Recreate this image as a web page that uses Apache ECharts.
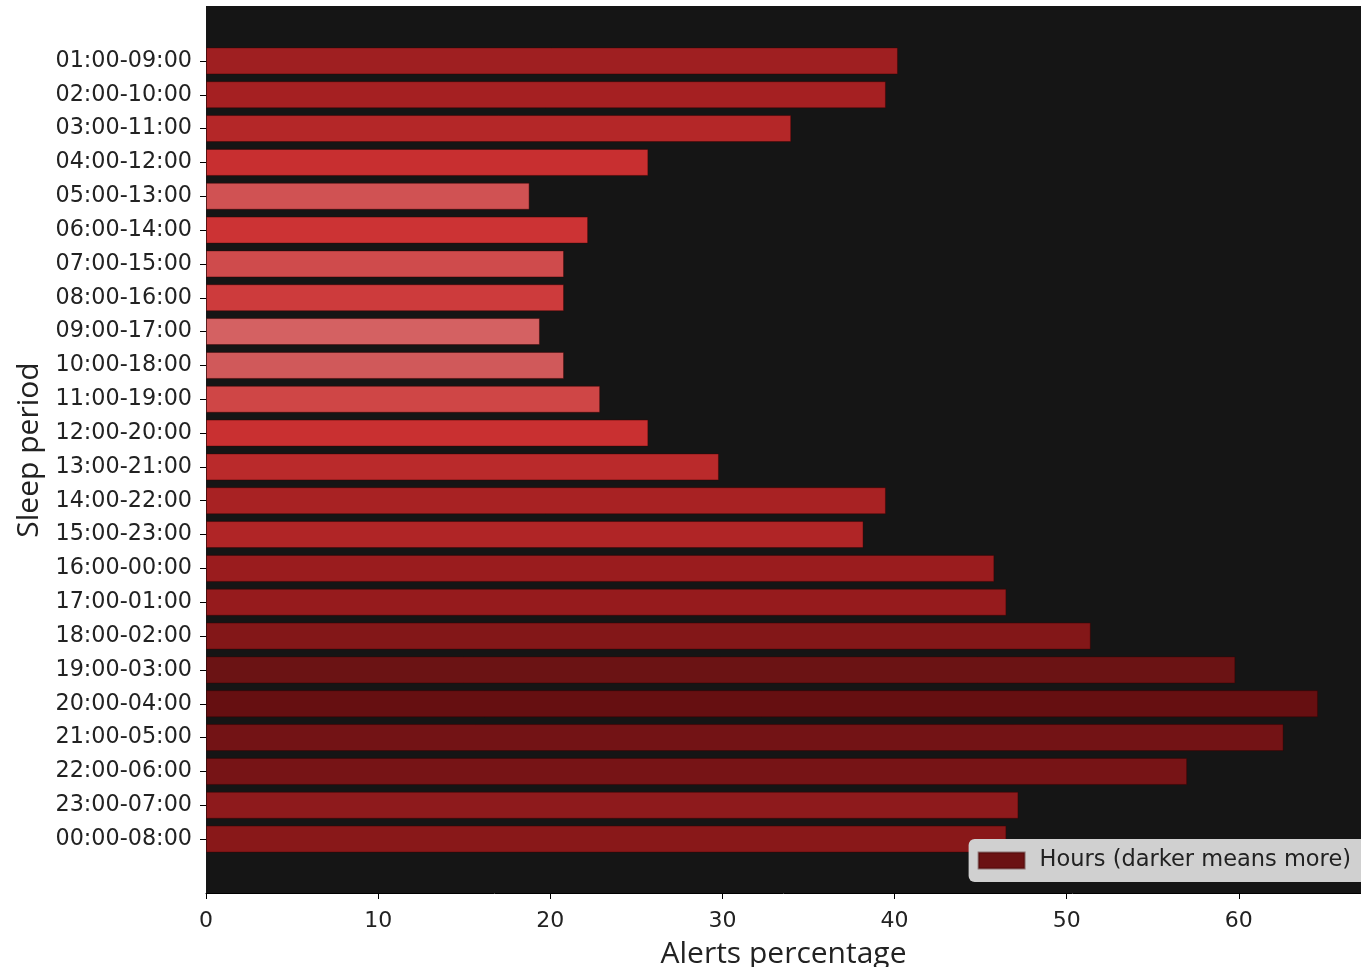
<!DOCTYPE html>
<html>
<head>
<meta charset="utf-8">
<script src="https://cdn.jsdelivr.net/npm/echarts@6/dist/echarts.min.js"></script>
<style>html,body{margin:0;padding:0;background:#fff}#chart{width:1361px;height:967px}</style>
</head>
<body>
<div id="chart"></div>
<script>
const periods = ["01:00-09:00","02:00-10:00","03:00-11:00","04:00-12:00","05:00-13:00","06:00-14:00","07:00-15:00","08:00-16:00","09:00-17:00","10:00-18:00","11:00-19:00","12:00-20:00","13:00-21:00","14:00-22:00","15:00-23:00","16:00-00:00","17:00-01:00","18:00-02:00","19:00-03:00","20:00-04:00","21:00-05:00","22:00-06:00","23:00-07:00","00:00-08:00"];
const alertsPct = [40.2,39.5,34.0,25.7,18.8,22.2,20.8,20.8,19.4,20.8,22.9,25.7,29.8,39.5,38.2,45.8,46.5,51.4,59.8,64.6,62.6,57.0,47.2,46.5];
const barColors = ["#9f1f21","#a52022","#b42728","#c82f30","#d05253","#cc3334","#cf4b4c","#cd3b3c","#d46162","#d0595a","#cf4646","#c93031","#ba2a2b","#a82223","#b02526","#9a1c1e","#961b1d","#831718","#6b1314","#660f11","#731315","#771416","#8e1a1c","#891819"];
const xTicks = [0,10,20,30,40,50,60];
const legendLabel = "Hours (darker means more)";

const chart = echarts.init(document.getElementById('chart'), null, {renderer:'canvas'});
const font = 'DejaVu Sans';
chart.setOption({
  animation: false,
  backgroundColor: '#ffffff',
  graphic: [{
    type: 'rect', z: -100, silent: true,
    shape: {x: 206, y: 6, width: 1155, height: 887},
    style: {fill: '#151515'}
  }],
  grid: {left: 206, right: 0, top: 44, height: 812, containLabel: false, outerBoundsMode: 'none'},
  legend: {
    show: true, right: -6, bottom: 85,
    data: [legendLabel],
    icon: 'rect', itemWidth: 46, itemHeight: 16,
    backgroundColor: '#d0d0d0', borderRadius: 6,
    padding: [10, 16, 10, 9],
    textStyle: {fontFamily: font, fontSize: 22.5, color: '#222', padding: [0,0,0,10]}
  },
  xAxis: {
    type: 'value', min: 0, max: 67.1, offset: 37,
    name: 'Alerts percentage', nameLocation: 'middle', nameGap: 46, nameMoveOverlap: false,
    nameTextStyle: {fontFamily: 'Open Sans', fontSize: 30, color: '#222'},
    axisLine: {show: true, lineStyle: {color: '#000', width: 1}},
    axisTick: {show: true, length: 6, customValues: xTicks, lineStyle: {color: '#000'}},
    axisLabel: {fontFamily: font, fontSize: 22, color: '#222', margin: 17, customValues: xTicks},
    splitLine: {show: false}
  },
  yAxis: {
    type: 'category', data: periods, inverse: true,
    name: 'Sleep period', nameLocation: 'middle', nameGap: 162, nameRotate: 90, nameMoveOverlap: false,
    nameTextStyle: {fontFamily: 'Open Sans', fontSize: 30, color: '#222'},
    axisLine: {show: false},
    axisTick: {show: true, alignWithLabel: true, length: 6, lineStyle: {color: '#000'}},
    axisLabel: {fontFamily: font, fontSize: 22.3, color: '#222', margin: 14, padding: [5,0,0,0]},
    splitLine: {show: false}
  },
  series: [{
    type: 'bar', name: legendLabel, barWidth: '80%',
    itemStyle: {color: '#6b1213', borderColor: 'rgba(60,0,0,0.45)', borderWidth: 1},
    data: alertsPct.map((v, i) => ({value: v, itemStyle: {color: barColors[i]}}))
  }]
});
</script>
</body>
</html>
